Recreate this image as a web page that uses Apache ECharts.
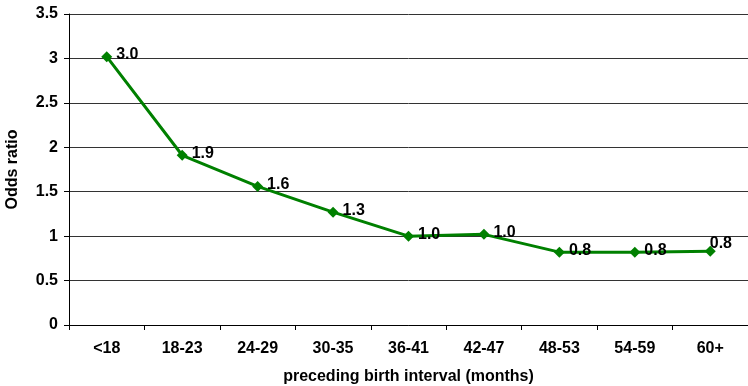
<!DOCTYPE html>
<html>
<head>
<meta charset="utf-8">
<script src="https://cdn.jsdelivr.net/npm/echarts@6/dist/echarts.min.js"></script>
<style>
  html, body { margin: 0; padding: 0; background: #fff; }
  #chart { width: 748px; height: 386px; }
</style>
</head>
<body>
<div id="chart"></div>
<script>
// Birth-interval categories and the odds ratio for each
const intervals = ['<18', '18-23', '24-29', '30-35', '36-41', '42-47', '48-53', '54-59', '60+'];
const oddsRatio = [3.02, 1.91, 1.56, 1.27, 1.0, 1.02, 0.82, 0.82, 0.83];
const yTicks = [0, 0.5, 1, 1.5, 2, 2.5, 3, 3.5];

const font = 'Liberation Sans, Arial, sans-serif';
const textStyle = { fontFamily: font, fontWeight: 'bold', fontSize: 16, color: '#000' };
const chart = echarts.init(document.getElementById('chart'));

// The last point's label sits above-left so it stays inside the canvas
const seriesData = oddsRatio.map((v, i) => i === oddsRatio.length - 1
  ? { value: v, label: { offset: [-10, -8] } }
  : v);

chart.setOption({
  animation: false,
  grid: { left: 69, right: 0, top: 14, bottom: 61, containLabel: false, outerBoundsMode: 'none' },
  xAxis: {
    type: 'category',
    data: intervals,
    boundaryGap: true,
    name: 'preceding birth interval (months)',
    nameLocation: 'middle',
    nameGap: 44,
    nameTextStyle: textStyle,
    axisLine: { lineStyle: { color: '#000', width: 1 } },
    axisTick: { show: true, inside: false, length: 5, lineStyle: { color: '#000' } },
    axisLabel: Object.assign({ margin: 16 }, textStyle)
  },
  yAxis: {
    type: 'value',
    min: yTicks[0],
    max: yTicks[yTicks.length - 1],
    interval: 0.5,
    name: 'Odds ratio',
    nameLocation: 'middle',
    nameGap: 48,
    nameRotate: 90,
    nameTextStyle: textStyle,
    axisLine: { show: true, lineStyle: { color: '#000', width: 1 } },
    axisTick: { show: true, inside: false, length: 5, lineStyle: { color: '#000' } },
    axisLabel: Object.assign({ margin: 11 }, textStyle),
    splitLine: { show: true, lineStyle: { color: '#333', width: 1 } }
  },
  series: [{
    type: 'line',
    data: seriesData,
    symbol: 'diamond',
    symbolSize: 11,
    lineStyle: { color: '#008000', width: 3 },
    itemStyle: { color: '#008000' },
    label: Object.assign({
      show: true,
      position: 'right',
      distance: 4,
      offset: [0, -2],
      formatter: p => p.value.toFixed(1)
    }, textStyle)
  }]
});
</script>
</body>
</html>
